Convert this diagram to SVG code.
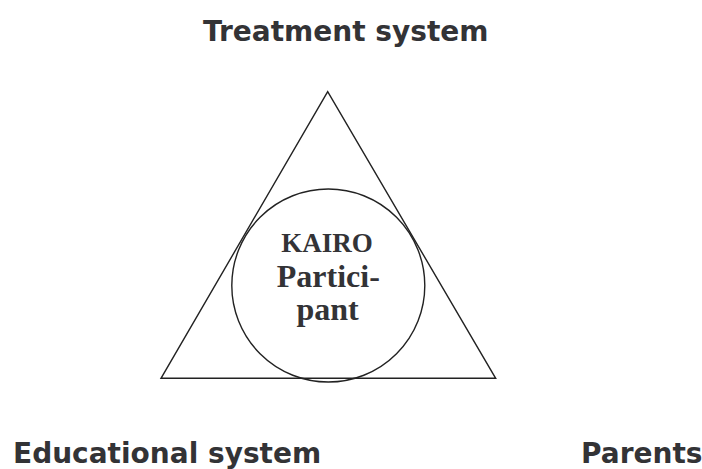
<svg xmlns="http://www.w3.org/2000/svg" width="702" height="469" viewBox="0 0 702 469">
<style>
.lbl{font-family:"DejaVu Sans","Verdana",sans-serif;font-weight:bold;font-size:28px;fill:#333336}
.in{font-family:"Liberation Serif","Times New Roman",serif;font-weight:bold;fill:#333336;text-anchor:middle}
.shape{fill:none;stroke:#222;stroke-width:1.4}
</style>
<rect width="702" height="469" fill="#fff"/>
<g id="triangle"><polygon class="shape" points="327.7,91.7 161,378.3 495.7,378.3"/></g>
<g id="participant">
<circle class="shape" cx="328.3" cy="285.5" r="96.5"/>
<text class="in" x="327" y="251.7" font-size="27">KAIRO</text>
<text class="in" x="328.3" y="286.7" font-size="32">Partici-</text>
<text class="in" x="327.5" y="320" font-size="32">pant</text>
</g>
<g id="treatment"><text class="lbl" x="203" y="41">Treatment system</text></g>
<g id="educational"><text class="lbl" x="13" y="463">Educational system</text></g>
<g id="parents"><text class="lbl" x="581" y="463">Parents</text></g>
</svg>
